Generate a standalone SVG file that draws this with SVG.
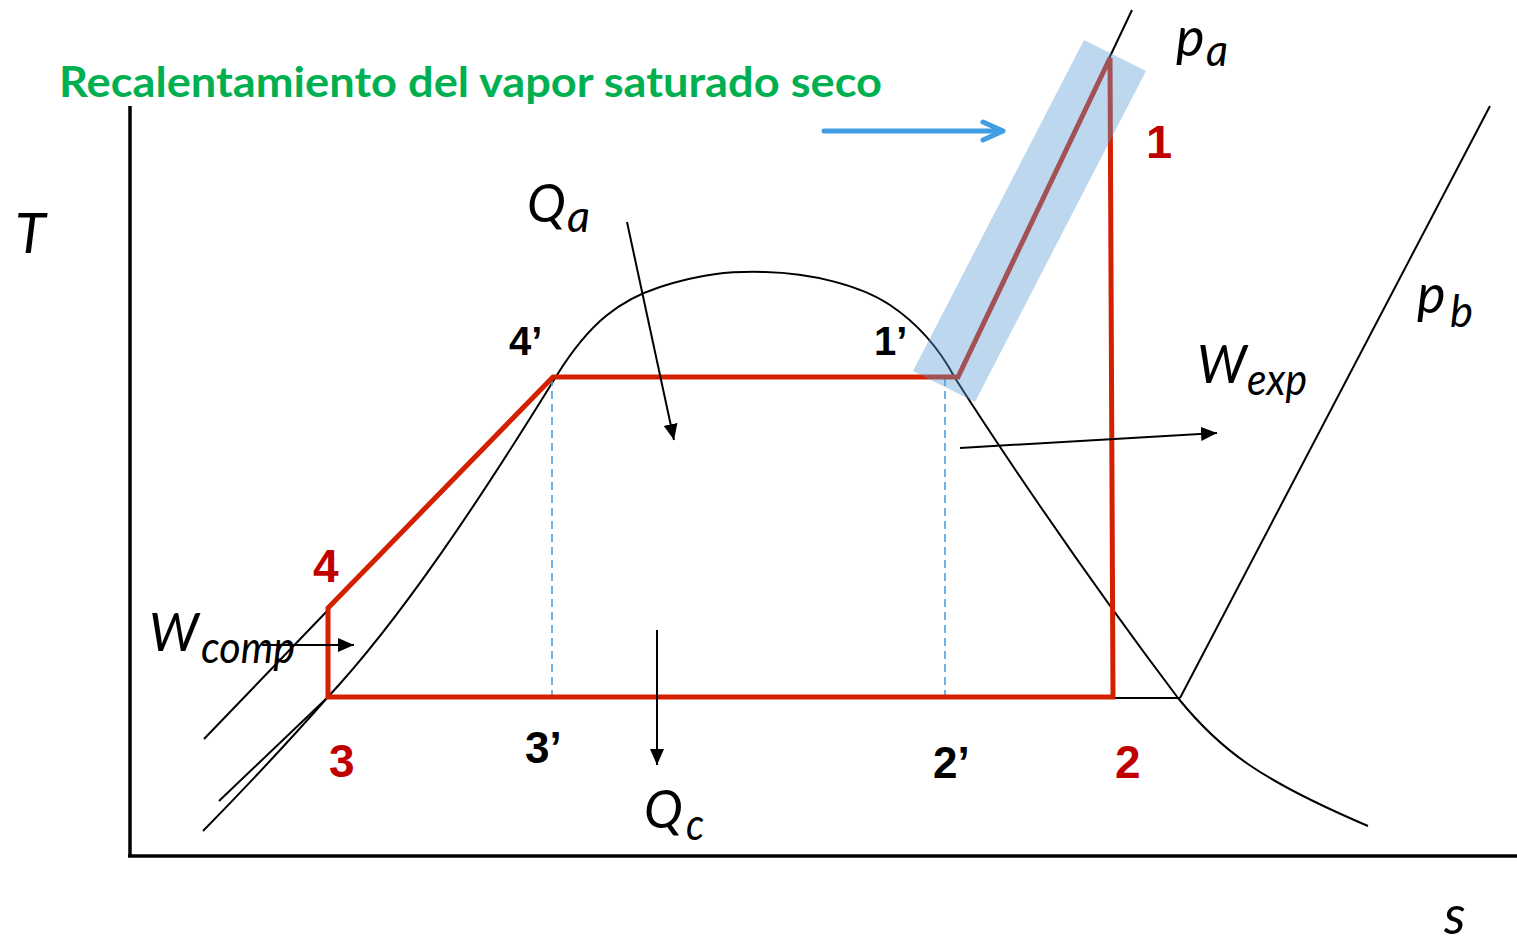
<svg xmlns="http://www.w3.org/2000/svg" width="1517" height="945" viewBox="0 0 1517 945">
<style>
.ax{stroke:#000;stroke-width:3.5;fill:none}
.ln{stroke:#000;stroke-width:2;fill:none}
.dash{stroke:#4ca0e0;stroke-width:1.6;stroke-dasharray:8 5;fill:none}
.cyc{stroke:#d22000;stroke-width:5;fill:none;stroke-linejoin:miter}
.arr{stroke:#000;stroke-width:2;fill:none}
.lab{font-family:Lato,"Liberation Sans",sans-serif;font-style:italic;fill:#000}
.num{font-family:"Liberation Sans",Arial,sans-serif;font-weight:bold}
.red{fill:#c00000}
.blk{fill:#000}
</style>
<defs>
<marker id="ah" markerUnits="userSpaceOnUse" markerWidth="18" markerHeight="14" refX="16" refY="7" orient="auto">
<path d="M0,0 L16,7 L0,14 z" fill="#000"/>
</marker>
</defs>
<rect width="1517" height="945" fill="#fff"/>
<g id="axes">
<line class="ax" x1="130" y1="106" x2="130" y2="857"/>
<line class="ax" x1="128" y1="856" x2="1517" y2="856"/>
</g>
<g id="dome">
<path class="ln" d="M203,831 C250,783 290,740 327,698 C400,620 480,500 557,375 C590,322 620,300 660,287 C700,274 730,271 765,272 C810,273 860,285 890,305 C920,325 940,350 955,378 C985,425 1070,555 1178,698 C1220,750 1260,780 1368,826"/>
</g>
<g id="isobars">
<line class="ln" x1="204" y1="739" x2="330" y2="608"/>
<line class="ln" x1="219" y1="801" x2="328" y2="697"/>
<line class="ln" x1="958" y1="377" x2="1132" y2="10"/>
<line class="ln" x1="1113" y1="698" x2="1180" y2="698"/>
<line class="ln" x1="1180" y1="698" x2="1490" y2="106"/>
</g>
<g id="dashed">
<line class="dash" x1="552" y1="378" x2="552" y2="698"/>
<line class="dash" x1="945" y1="378" x2="945" y2="698"/>
</g>
<g id="cycle">
<path class="cyc" d="M328,697 L328,608 L553,377 L958,377 L1110,58 L1113,697 Z"/>
</g>
<g id="superheat-band">
<polygon points="1084,40 1146,71 975,402 913,371" fill="#5b9bd5" fill-opacity="0.4"/>
</g>
<g id="connectors">
<line class="arr" x1="627" y1="222" x2="674" y2="440" marker-end="url(#ah)"/>
<line class="arr" x1="960" y1="448" x2="1217" y2="433" marker-end="url(#ah)"/>
<line class="arr" x1="262" y1="645" x2="354" y2="645" marker-end="url(#ah)"/>
<line class="arr" x1="657" y1="630" x2="657" y2="765" marker-end="url(#ah)"/>
<g stroke="#419ee2" stroke-width="5" stroke-linecap="round" stroke-linejoin="round" fill="none">
<line x1="824" y1="131" x2="1002" y2="131"/>
<polyline points="983,122 1003,131 983,140"/>
</g>
</g>
<g id="title">
<text x="59" y="97" font-family="Lato,'Liberation Sans',sans-serif" font-weight="bold" font-size="42" fill="#00b050" textLength="823" lengthAdjust="spacingAndGlyphs">Recalentamiento del vapor saturado seco</text>
</g>
<g id="axis-labels">
<text class="lab" x="15" y="253" font-size="56">T</text>
<text class="lab" x="1444" y="934" font-size="54">s</text>
</g>
<g id="pressure-labels">
<text class="lab" x="1176" y="56" font-size="54">p</text>
<text class="lab" x="1206" y="66" font-size="44" textLength="22" lengthAdjust="spacingAndGlyphs">a</text>
<text class="lab" x="1417" y="313" font-size="54">p</text>
<text class="lab" x="1450" y="327" font-size="44" textLength="23" lengthAdjust="spacingAndGlyphs">b</text>
</g>
<g id="energy-labels">
<text class="lab" x="527" y="222" font-size="52">Q</text>
<text class="lab" x="567" y="232" font-size="44" textLength="23" lengthAdjust="spacingAndGlyphs">a</text>
<text class="lab" x="644" y="828" font-size="52">Q</text>
<text class="lab" x="686" y="840" font-size="44" textLength="18" lengthAdjust="spacingAndGlyphs">c</text>
<text class="lab" x="1197" y="383" font-size="52">W</text>
<text class="lab" x="1247" y="395" font-size="44" textLength="60" lengthAdjust="spacingAndGlyphs">exp</text>
<text class="lab" x="149" y="651" font-size="52">W</text>
<text class="lab" x="201" y="663" font-size="44" textLength="94" lengthAdjust="spacingAndGlyphs">comp</text>
</g>
<g id="state-points">
<text class="num red" x="1146" y="158" font-size="47">1</text>
<text class="num red" x="1115" y="778" font-size="46">2</text>
<text class="num red" x="329" y="777" font-size="46">3</text>
<text class="num red" x="313" y="582" font-size="46">4</text>
<text class="num blk" x="509" y="355" font-size="40">4’</text>
<text class="num blk" x="874" y="355" font-size="40">1’</text>
<text class="num blk" x="525" y="763" font-size="44">3’</text>
<text class="num blk" x="933" y="778" font-size="44">2’</text>
</g>
</svg>
